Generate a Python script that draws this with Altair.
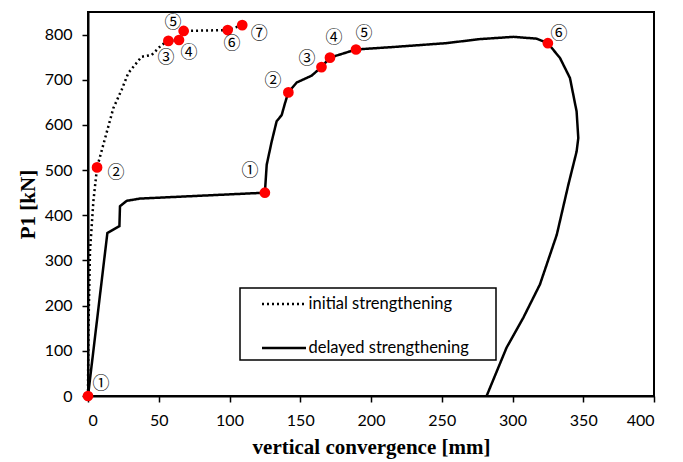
import altair as alt
import pandas as pd

# ---- data ----
init_x = [0, 0.3, 0.7, 1.4, 3.8, 6.4, 10.8, 17.9, 23.8, 28.5, 37.9, 45.0, 52.0, 56.8, 64.3, 67.6, 98.7, 109.0]
init_y = [0, 150, 210, 320, 431, 506, 556, 637, 678, 715, 751, 755, 777, 786, 788, 808, 810, 821]

del_x = [0, 13.7, 22.2, 22.6, 27.3, 36.7, 125.0, 126.3, 129.8, 133.3, 136.9, 139.2, 141.6, 147.5, 158.0,
         165.0, 171.0, 189.4, 218.0, 253.0, 277.0, 300.6, 317.0, 325.0, 333.6, 340.6, 345.3, 346.5,
         345.3, 339.5, 331.3, 319.4, 307.6, 295.8, 281.7]
del_y = [0, 361, 376, 420, 432, 437, 450, 512, 563, 608, 622, 648, 672, 694, 709,
         728, 749, 767, 773, 781, 790, 795, 791, 781, 748, 704, 630, 571,
         541, 468, 357, 247, 173, 107, 0]

dot_x = [0, 6.4, 56.8, 64.3, 67.6, 98.7, 109.0, 125.0, 141.6, 165.0, 171.0, 189.4, 325.0]
dot_y = [0, 506, 786, 788, 808, 810, 821, 450, 672, 728, 749, 767, 781]

lab_text = ["①", "②", "③", "④", "⑤", "⑥", "⑦", "①", "②", "③", "④", "⑤", "⑥"]
lab_x = [9.2, 19.8, 55.1, 71.4, 60.1, 101.8, 121.0, 114.5, 130.7, 154.8, 173.9, 195.0, 332.9]
lab_y = [26.5, 493, 749, 760, 826, 780, 802, 499, 698, 747, 793, 802, 802]

series = ["initial strengthening", "delayed strengthening"]

lines = pd.DataFrame({
    "x": init_x + del_x,
    "y": init_y + del_y,
    "s": [series[0]] * len(init_x) + [series[1]] * len(del_x),
    "i": list(range(len(init_x))) + list(range(len(del_x))),
})
dots = pd.DataFrame({"x": dot_x, "y": dot_y})
labs = pd.DataFrame({"x": lab_x, "y": lab_y, "t": lab_text})

xs = alt.Scale(domain=[0, 400], nice=False)
ys = alt.Scale(domain=[0, 850], nice=False)

xaxis = alt.Axis(values=list(range(0, 401, 50)), title="vertical convergence [mm]", grid=False,
                 tickSize=6, labelPadding=10, titlePadding=8)
yaxis = alt.Axis(values=list(range(0, 801, 100)), title="P1 [kN]", grid=False,
                 tickSize=6, labelPadding=10, titlePadding=6)

line_layer = alt.Chart(lines).mark_line(color="black", strokeWidth=2.5).encode(
    x=alt.X("x:Q", scale=xs, axis=xaxis),
    y=alt.Y("y:Q", scale=ys, axis=yaxis),
    strokeDash=alt.StrokeDash("s:N", scale=alt.Scale(domain=series, range=[[2, 3], [1, 0]]),
                              legend=alt.Legend(title=" ", titleOrient="right", titlePadding=24,
                                                orient="none", legendX=152, legendY=276,
                                                symbolType="M-2,0H2", symbolSize=484,
                                                symbolStrokeWidth=2.5, symbolStrokeColor="black",
                                                symbolOffset=28, labelLimit=300,
                                                labelFont="Lato", labelFontSize=16.5, labelColor="black",
                                                rowPadding=23, padding=3.5, labelOffset=12,
                                                strokeColor="black")),
    order=alt.Order("i:Q"),
)

dot_layer = alt.Chart(dots).mark_circle(color="#ff0000", size=115, opacity=1).encode(
    x=alt.X("x:Q", scale=xs), y=alt.Y("y:Q", scale=ys))

text_layer = alt.Chart(labs).mark_text(font="Noto Sans CJK JP", fontSize=17, color="black").encode(
    x=alt.X("x:Q", scale=xs), y=alt.Y("y:Q", scale=ys), text="t:N")

chart = alt.layer(line_layer, dot_layer, text_layer).properties(
    width=566, height=384,
    padding={"left": 9, "top": 4, "right": 5, "bottom": 5},
).configure_view(stroke="black", strokeWidth=2).configure_axis(
    domainColor="black", domainWidth=2, tickColor="black", tickWidth=1.5,
    labelFont="Lato", labelFontSize=16, labelColor="black",
    titleFont="Liberation Serif", titleFontSize=21, titleFontWeight="bold", titleColor="black",
).configure_legend(strokeWidth=1.5)

chart.save("out.html", embed_options={"renderer": "svg", "actions": False})
